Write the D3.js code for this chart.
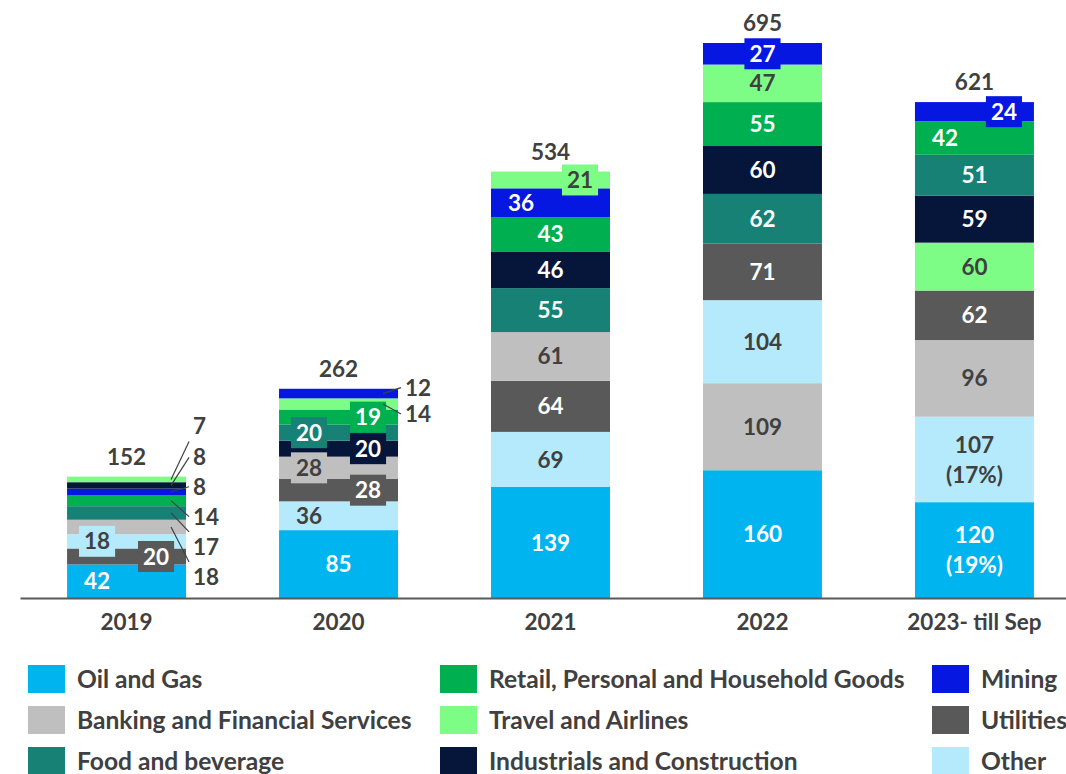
<!DOCTYPE html>
<html>
<head>
    <meta charset="utf-8" />
    <title>Sector breakdown by year</title>
    <script src="https://d3js.org/d3.v7.min.js"></script>
    <style>
        body { margin: 0; background-color: white; }
        svg text { font-family: Lato, 'Open Sans', sans-serif; font-weight: bold; }
    </style>
</head>
<body>
<div id="container"></div>
<script>
    /* canvas */
    var width = 1066, height = 774;

    /* data */
    var years = ["2019", "2020", "2021", "2022", "2023- till Sep"];
    var totals = [152, 262, 534, 695, 621];

    var sectors = ["Oil and Gas", "Banking and Financial Services", "Food and beverage",
        "Retail, Personal and Household Goods", "Travel and Airlines", "Industrials and Construction",
        "Mining", "Utilities", "Other"];
    var sectorColors = ["#00b4f0", "#bfbfbf", "#178176", "#00b050", "#7dfd85", "#06163a",
        "#0517e0", "#595959", "#b5eafc"];

    var oilGas = [42, 85, 139, 160, 120];
    var banking = [18, 28, 61, 109, 96];
    var food = [17, 20, 55, 62, 51];
    var retail = [14, 19, 43, 55, 42];
    var travel = [7, 14, 21, 47, 60];
    var industrials = [8, 20, 46, 60, 59];
    var mining = [8, 12, 36, 27, 24];
    var utilities = [20, 28, 64, 71, 62];
    var other = [18, 36, 69, 104, 107];

    var seriesValues = [oilGas, banking, food, retail, travel, industrials, mining, utilities, other];

    // share notes printed under the value (last year only)
    var shareNotes = { "2023- till Sep": { "Oil and Gas": "(19%)", "Other": "(17%)" } };

    // each bar is sorted biggest at the bottom, ties broken by this order
    var tieOrder = ["Oil and Gas", "Other", "Utilities", "Banking and Financial Services", "Mining",
        "Industrials and Construction", "Food and beverage", "Retail, Personal and Household Goods",
        "Travel and Airlines"];

    // sectors whose labels are dark grey instead of white
    var darkLabel = ["Banking and Financial Services", "Travel and Airlines", "Other"];

    /* how each label sits: left / right shifted, in a box, or outside with a leader line */
    var labelMode = {
        "2019": { "Oil and Gas": "left", "Utilities": "boxR", "Other": "boxL",
            "Banking and Financial Services": "out", "Food and beverage": "out",
            "Retail, Personal and Household Goods": "out", "Mining": "out",
            "Industrials and Construction": "out", "Travel and Airlines": "out" },
        "2020": { "Other": "left", "Utilities": "boxR", "Banking and Financial Services": "boxL",
            "Industrials and Construction": "boxR", "Food and beverage": "boxL",
            "Retail, Personal and Household Goods": "boxR", "Travel and Airlines": "out", "Mining": "out" },
        "2021": { "Mining": "left", "Travel and Airlines": "boxR" },
        "2022": { "Mining": "boxC" },
        "2023- till Sep": { "Mining": "boxR", "Retail, Personal and Household Goods": "left" }
    };
    // vertical shift (px) of outside labels from their segment
    var outsideShift = {
        "2019": { "Travel and Airlines": -53, "Industrials and Construction": -28, "Mining": -5,
            "Retail, Personal and Household Goods": 16, "Food and beverage": 34,
            "Banking and Financial Services": 50 },
        "2020": { "Mining": -6, "Travel and Airlines": 10 }
    };

    var valueFont = 22.5, tickFont = 22.5, legendFont = 24.6;
    var textGrey = "#404040";

    var svg = d3.select("#container").append("svg")
        .attr("width", width).attr("height", height);

    /* scales */
    var x = d3.scaleBand().domain(years).range([20, 1081])
        .paddingInner(0.4387).paddingOuter(0.222);
    var y = d3.scaleLinear().domain([0, d3.max(totals)]).range([598, 43]);
    var color = d3.scaleOrdinal().domain(sectors).range(sectorColors);

    /* build the stacked segments, one sort per year */
    var segments = [];
    years.forEach(function (yr, i) {
        var rows = sectors.map(function (s, k) { return { sector: s, value: seriesValues[k][i] }; });
        rows.sort(function (a, b) {
            return (b.value - a.value) || (tieOrder.indexOf(a.sector) - tieOrder.indexOf(b.sector));
        });
        var acc = 0;
        rows.forEach(function (r) {
            r.year = yr;
            r.y0 = acc;
            r.y1 = acc + r.value;
            acc = r.y1;
            r.mode = (labelMode[yr] && labelMode[yr][r.sector]) || "center";
            r.note = shareNotes[yr] ? shareNotes[yr][r.sector] : null;
            segments.push(r);
        });
    });

    svg.append("g").attr("id", "bars").selectAll("rect")
        .data(segments)
        .enter().append("rect")
        .attr("x", function (d) { return x(d.year); })
        .attr("width", x.bandwidth())
        .attr("y", function (d) { return y(d.y1); })
        .attr("height", function (d) { return y(d.y0) - y(d.y1); })
        .attr("fill", function (d) { return color(d.sector); });

    /* axis */
    var axis = svg.append("g").attr("transform", "translate(0," + y(0) + ")")
        .call(d3.axisBottom(x).tickSize(0).tickPadding(16));
    axis.select(".domain").attr("stroke", "#595959").attr("stroke-width", 2);
    axis.selectAll("text")
        .style("font-family", "Lato, 'Open Sans', sans-serif")
        .style("font-weight", "bold")
        .style("font-size", tickFont + "px")
        .attr("fill", textGrey);

    /* value labels */
    var shift = 29.5;
    function labelX(d) {
        var c = x(d.year) + x.bandwidth() / 2;
        if (d.mode == "left" || d.mode == "boxL") return c - shift;
        if (d.mode == "right" || d.mode == "boxR") return c + shift;
        return c;
    }
    function midY(d) { return (y(d.y0) + y(d.y1)) / 2; }

    var inside = segments.filter(function (d) { return d.mode != "out"; });
    var labels = svg.append("g").attr("id", "labels");

    inside.forEach(function (d) {
        var g = labels.append("g");
        var cx = labelX(d), cy = midY(d);
        var fill = darkLabel.indexOf(d.sector) >= 0 ? textGrey : "white";
        var t = g.append("text")
            .attr("x", cx)
            .attr("text-anchor", "middle")
            .style("font-size", valueFont + "px")
            .attr("fill", fill)
            .text(d.value);
        if (d.note) {
            t.attr("y", cy - 15 + valueFont * 0.358);
            g.append("text")
                .attr("x", cx).attr("y", cy + 15 + valueFont * 0.358)
                .attr("text-anchor", "middle")
                .style("font-size", valueFont + "px")
                .attr("fill", fill)
                .text(d.note);
        } else {
            t.attr("y", cy + valueFont * 0.358);
        }
        if (d.mode.indexOf("box") == 0) {
            var w = t.node().getComputedTextLength() + 10;
            g.insert("rect", "text")
                .attr("x", cx - w / 2).attr("y", cy - 15.5)
                .attr("width", w).attr("height", 31)
                .attr("fill", color(d.sector));
        }
    });

    /* outside labels with leader lines */
    var outside = segments.filter(function (d) { return d.mode == "out"; });
    outside.forEach(function (d) {
        var right = x(d.year) + x.bandwidth();
        var sy = midY(d);
        var ly = sy + outsideShift[d.year][d.sector];
        var diff = sy - ly;
        var endY = Math.abs(diff) > 30 ? ly + (diff > 0 ? 15 : -15) : ly;
        labels.append("line")
            .attr("x1", right - 15).attr("y1", sy)
            .attr("x2", right + 3).attr("y2", endY)
            .attr("stroke", "#404040").attr("stroke-width", 1.2);
        labels.append("text")
            .attr("x", right + 7).attr("y", ly + valueFont * 0.358)
            .style("font-size", valueFont + "px")
            .attr("fill", textGrey)
            .text(d.value);
    });

    /* totals above the bars */
    svg.append("g").attr("id", "totals").selectAll("text")
        .data(years)
        .enter().append("text")
        .attr("x", function (d) { return x(d) + x.bandwidth() / 2; })
        .attr("y", function (d, i) { return y(totals[i]) - 12; })
        .attr("text-anchor", "middle")
        .style("font-size", valueFont + "px")
        .attr("fill", textGrey)
        .text(function (d, i) { return totals[i]; });

    /* legend: three columns of three */
    var legendCols = [28, 440, 932], legendRows = [665, 706, 747];
    var legend = svg.append("g").attr("id", "legend").selectAll("g")
        .data(sectors)
        .enter().append("g")
        .attr("transform", function (d, i) {
            return "translate(" + legendCols[Math.floor(i / 3)] + "," + legendRows[i % 3] + ")";
        });
    legend.append("rect")
        .attr("width", 37).attr("height", 28)
        .attr("fill", function (d) { return color(d); });
    legend.append("text")
        .attr("x", 49).attr("y", 14 + legendFont * 0.358)
        .style("font-size", legendFont + "px")
        .attr("fill", textGrey)
        .text(function (d) { return d; });
</script>
</body>
</html>
